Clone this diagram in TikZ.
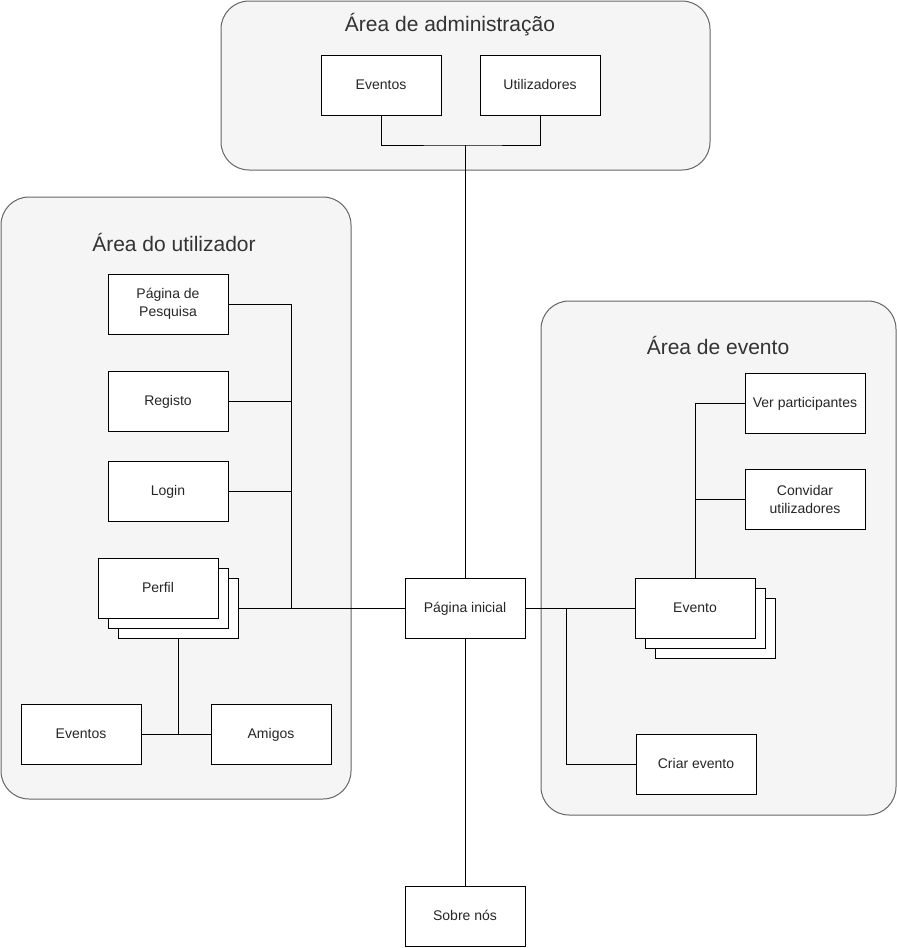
\documentclass[tikz,border=0pt]{standalone}
\usepackage{fontspec}
\setmainfont{Liberation Sans}
\begin{document}
\begin{tikzpicture}[x=1pt,y=-1pt,line width=1pt,
  area/.style={draw=black!60,fill=black!4,rounded corners=28pt},
  areatitle/.style={text=black!80,font=\fontsize{21}{24}\selectfont},
  box/.style={draw=black,fill=white,minimum width=120pt,minimum height=60pt,
    inner sep=2pt,align=center,text=black!85,font=\fontsize{14}{18}\selectfont},
  line1/.style={box,text height=11pt,text depth=2pt},
  link/.style={draw=black}]
\useasboundingbox (0,0) rectangle (897,948);

% group backgrounds
\draw[area] (221,1) rectangle (710,170);
\draw[area] (1,197) rectangle (351,799);
\draw[area] (541,301) rectangle (896,815);
\node[areatitle] (tadmin) at (450,25) {Área de administração};
\node[areatitle] (tuser) at (174,242) {Área do utilizador};
\node[areatitle] (tevent) at (718,345) {Área de evento};

% admin area
\node[line1] (aev) at (381,85) {Eventos};
\node[line1] (aut) at (540,85) {Utilizadores};

% user area
\node[box] (pesq) at (168,304) {Página de\\Pesquisa};
\node[line1] (reg) at (168,401) {Registo};
\node[line1] (login) at (168,491) {Login};
\node[line1] (perfil3) at (178,608) {};
\node[line1] (perfil2) at (168,598) {};
\node[line1] (perfil) at (158,588) {Perfil};
\node[line1] (uev) at (81,734) {Eventos};
\node[line1] (amigos) at (271,734) {Amigos};

% centre
\node[line1] (inicial) at (465,608) {Página inicial};
\node[line1] (sobre) at (465,916) {Sobre nós};

% event area
\node[line1] (ver) at (805,403) {Ver participantes};
\node[box] (conv) at (805,499) {Convidar\\utilizadores};
\node[line1] (evento3) at (715,628) {};
\node[line1] (evento2) at (705,618) {};
\node[line1] (evento) at (695,608) {Evento};
\node[line1] (criar) at (696,764) {Criar evento};

% junction points
\coordinate (ajx) at (465,145);
\coordinate (ujx) at (291,608);
\coordinate (ejx) at (566,608);

% connectors
\draw[link] (aev.south) |- (ajx) -| (aut.south);
\draw[link] (ajx) -- (inicial.north);
\draw[link] (pesq.east) -| (ujx);
\draw[link] (reg.east) -- (reg.east -| ujx);
\draw[link] (login.east) -- (login.east -| ujx);
\draw[link] (perfil3.east) -- (inicial.west);
\draw[link] (perfil3.south) -- (perfil3.south |- uev.east);
\draw[link] (uev.east) -- (amigos.west);
\draw[link] (inicial.east) -- (evento.west);
\draw[link] (evento.north) |- (ver.west);
\draw[link] (evento.north |- conv.west) -- (conv.west);
\draw[link] (ejx) |- (criar.west);
\draw[link] (inicial.south) -- (sobre.north);
\end{tikzpicture}
\end{document}
